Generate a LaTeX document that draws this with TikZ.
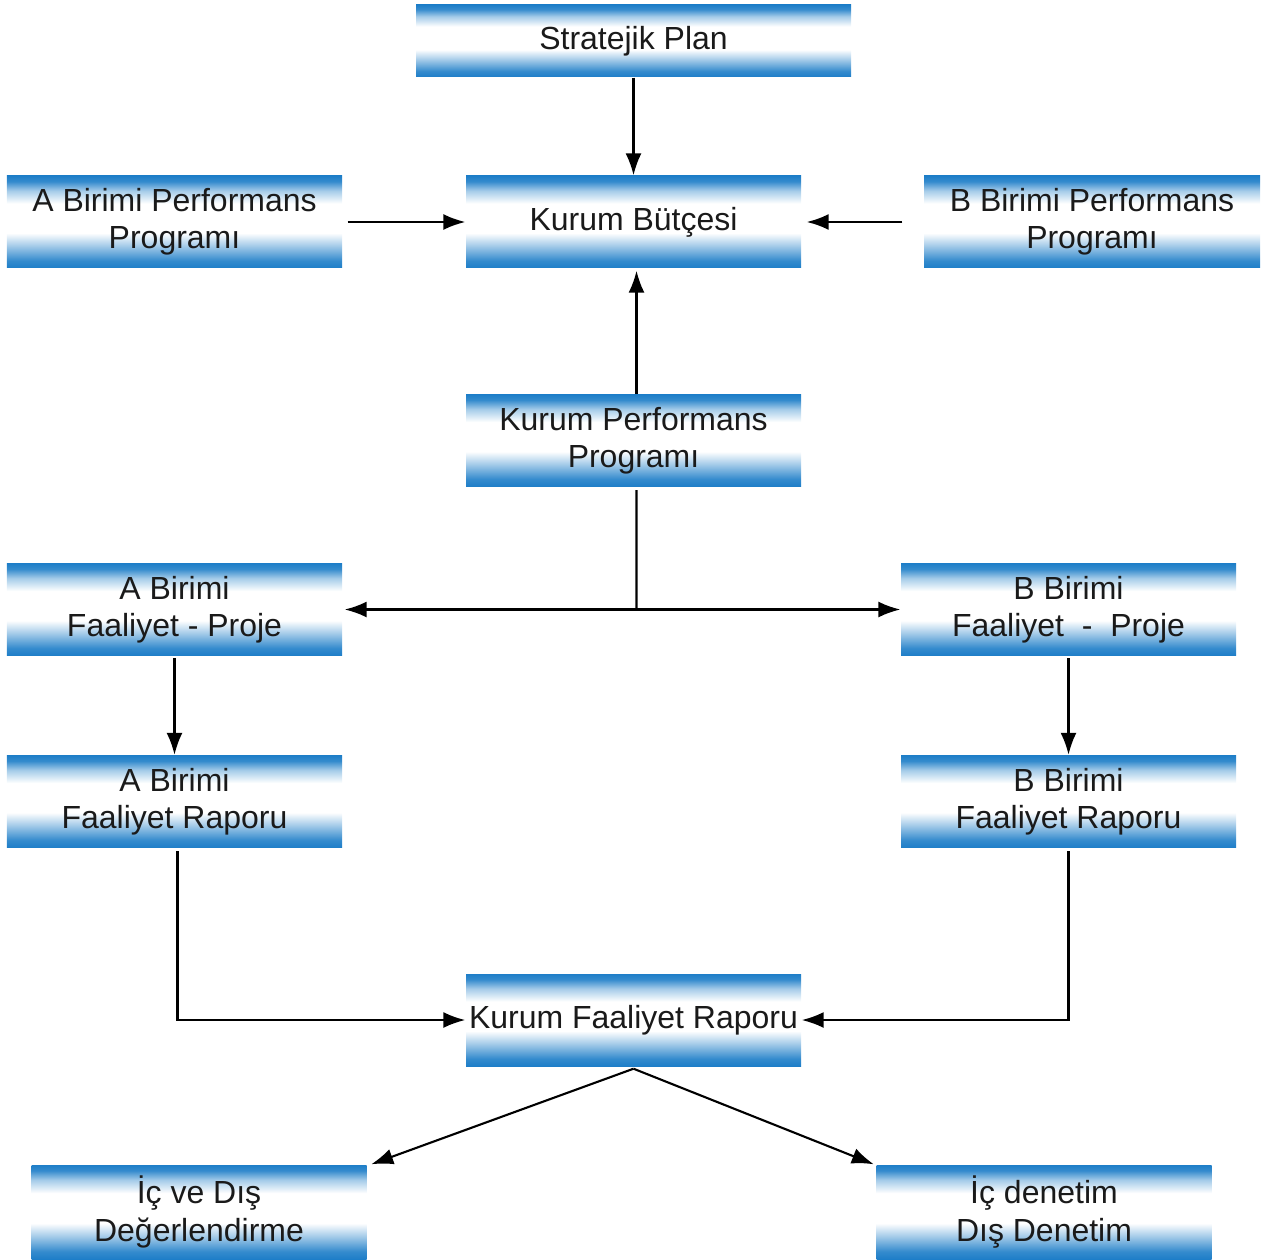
\documentclass[tikz,border=0pt]{standalone}
\usepackage{fontspec}
\setmainfont{Liberation Sans}
\usetikzlibrary{arrows.meta}
\definecolor{bandblue}{HTML}{1E7EC8}
\definecolor{inktext}{HTML}{1A1A1A}
\pgfdeclareverticalshading{blueband}{100bp}{color(0bp)=(bandblue); color(25bp)=(bandblue);
  color(29bp)=(bandblue!90!white); color(38bp)=(bandblue!35!white); color(44bp)=(white);
  color(60bp)=(white); color(67bp)=(bandblue!40!white); color(72bp)=(bandblue!90!white);
  color(75bp)=(bandblue); color(100bp)=(bandblue)}

\begin{document}
\begin{tikzpicture}[>={Latex[length=2.2mm,width=1.6mm]},
  blok/.style={shading=blueband, minimum width=3.35cm, minimum height=0.92cm,
    inner sep=0pt, align=center, text=inktext,
    font=\fontsize{9.1pt}{10.6pt}\selectfont},
  ok/.style={->, line width=0.6pt}]
  \useasboundingbox (0,0) rectangle (12.71,-12.59);

  % ---------------- top part ----------------
  \node[blok, minimum width=4.35cm, minimum height=0.72cm] (plan) at (6.335,-0.41) {Stratejik Plan};
  \node[blok] (butce) at (6.335,-2.22) {Kurum Bütçesi};
  \node[blok] (aprog) at (1.745,-2.22) {A Birimi Performans\\Programı};
  \node[blok, minimum width=3.36cm] (bprog) at (10.92,-2.22) {B Birimi Performans\\Programı};
  \node[blok] (kprog) at (6.335,-4.405) {Kurum Performans\\Programı};

  \draw[ok] (plan) -- (butce);
  \draw[ok] ([xshift=0.05cm]aprog.east) -- (butce.west);
  \draw[ok] ([xshift=-0.21cm]bprog.west) -- ([xshift=0.05cm]butce.east);
  \draw[ok] ([xshift=0.03cm]kprog.north) -- ([xshift=0.03cm,yshift=-0.02cm]butce.south);

  % ---------------- units ----------------
  \node[blok] (afaal) at (1.745,-6.095) {A Birimi\\Faaliyet - Proje};
  \node[blok] (bfaal) at (10.685,-6.095) {B Birimi\\Faaliyet \ - \ Proje};
  \node[blok] (arapor) at (1.745,-8.015) {A Birimi\\Faaliyet Raporu};
  \node[blok] (brapor) at (10.685,-8.015) {B Birimi\\Faaliyet Raporu};
  \coordinate (ayrim) at (6.365,-6.095);

  \draw[line width=0.6pt] ([xshift=0.03cm,yshift=-0.03cm]kprog.south) -- (ayrim);
  \draw[ok] (ayrim) -- ([xshift=0.02cm]afaal.east);
  \draw[ok] (ayrim) -- (bfaal.west);
  \draw[ok] ([yshift=-0.02cm]afaal.south) -- (arapor.north);
  \draw[ok] ([yshift=-0.02cm]bfaal.south) -- (brapor.north);

  % ---------------- bottom part ----------------
  \node[blok] (krapor) at (6.335,-10.2) {Kurum Faaliyet Raporu};
  \node[blok, minimum height=0.94cm] (icdis) at (1.99,-12.12) {İç ve Dış\\Değerlendirme};
  \node[blok, minimum height=0.94cm] (denetim) at (10.44,-12.12) {İç denetim\\Dış Denetim};

  \draw[ok] ([xshift=0.03cm,yshift=-0.03cm]arapor.south) |- (krapor.west);
  \draw[ok] ([yshift=-0.03cm]brapor.south) |- (krapor.east);
  \draw[ok] ([yshift=-0.02cm]krapor.south) -- ([xshift=0.04cm]icdis.north east);
  \draw[ok] ([yshift=-0.02cm]krapor.south) -- ([xshift=-0.02cm]denetim.north west);
\end{tikzpicture}
\end{document}
